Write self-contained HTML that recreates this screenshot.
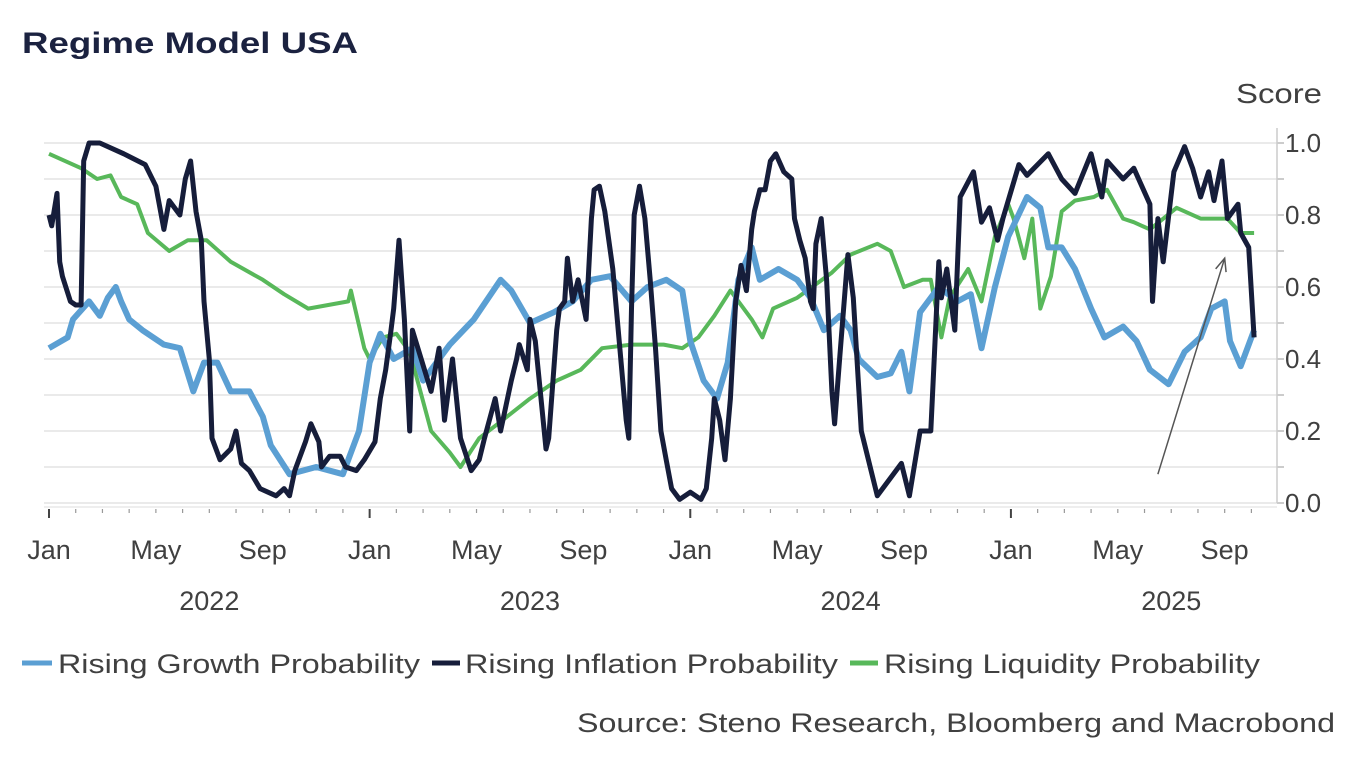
<!DOCTYPE html>
<html><head><meta charset="utf-8"><style>
body{margin:0;background:#fff;width:1362px;height:758px;overflow:hidden;font-family:"Liberation Sans",sans-serif}
svg{position:absolute;left:0;top:0}
</style></head><body>
<svg id="chart" width="1362" height="758">
<text x="22" y="53" font-size="30" font-weight="bold" fill="#1b2240" textLength="336" lengthAdjust="spacingAndGlyphs">Regime Model USA</text>
<text x="1236" y="103" font-size="28" fill="#404040" textLength="86" lengthAdjust="spacingAndGlyphs">Score</text>
<g id="grid"></g><g id="axes"></g><g id="series"></g>
<g>
<g><line x1="22" y1="663" x2="52" y2="663" stroke="#5b9fd3" stroke-width="5"/><text x="58" y="673" font-size="27" fill="#404040" textLength="362" lengthAdjust="spacingAndGlyphs">Rising Growth Probability</text></g>
<g><line x1="432" y1="663" x2="460" y2="663" stroke="#161d3a" stroke-width="5"/><text x="465" y="673" font-size="27" fill="#404040" textLength="373" lengthAdjust="spacingAndGlyphs">Rising Inflation Probability</text></g>
<g><line x1="850" y1="663" x2="878" y2="663" stroke="#58b85a" stroke-width="5"/><text x="884" y="673" font-size="27" fill="#404040" textLength="376" lengthAdjust="spacingAndGlyphs">Rising Liquidity Probability</text></g>
</g>
<text x="577" y="732" font-size="27" fill="#404040" textLength="758" lengthAdjust="spacingAndGlyphs">Source: Steno Research, Bloomberg and Macrobond</text>
</svg>
<script>
const yTicks=[0,0.1,0.2,0.3,0.4,0.5,0.6,0.7,0.8,0.9,1.0];
const yLabels=["0.0","0.2","0.4","0.6","0.8","1.0"];
const xTickMonths=[0,4,8,12,16,20,24,28,32,36,40,44];
const xTickLabels=["Jan","May","Sep","Jan","May","Sep","Jan","May","Sep","Jan","May","Sep"];
const years=["2022","2023","2024","2025"];
const growthT=[0,0.7,0.9,1.5,1.9,2.2,2.5,2.7,3.0,3.5,4.3,4.9,5.4,5.8,6.3,6.8,7.5,8.0,8.3,9.0,10.0,11.0,11.6,12.0,12.4,12.9,13.6,14.0,14.3,15.0,15.9,16.9,17.3,18.0,18.9,19.6,20.3,21.0,21.8,22.4,23.1,23.7,24.0,24.5,25.0,25.4,25.8,26.3,26.6,27.3,28.0,28.5,29.0,29.6,30.0,30.3,31.0,31.5,31.9,32.2,32.6,33.3,34.0,34.5,34.9,35.4,35.9,36.6,37.1,37.4,37.9,38.4,39.0,39.5,40.2,40.7,41.2,41.9,42.5,43.1,43.5,44.0,44.2,44.6,45.1];
const growthV=[.43,.46,.51,.56,.52,.57,.6,.56,.51,.48,.44,.43,.31,.39,.39,.31,.31,.24,.16,.08,.1,.08,.2,.39,.47,.4,.43,.34,.37,.44,.51,.62,.59,.5,.53,.56,.62,.63,.56,.6,.62,.59,.45,.34,.29,.39,.62,.71,.62,.65,.62,.57,.48,.52,.48,.4,.35,.36,.42,.31,.53,.6,.56,.58,.43,.6,.74,.85,.82,.71,.71,.65,.54,.46,.49,.45,.37,.33,.42,.46,.54,.56,.45,.38,.48];
const inflT=[0,0.1,0.3,0.4,0.5,0.8,1.0,1.2,1.3,1.5,1.9,2.8,3.6,4.0,4.3,4.5,4.9,5.1,5.3,5.5,5.7,5.8,6.0,6.1,6.4,6.8,7.0,7.2,7.5,7.9,8.5,8.8,9.0,9.2,9.6,9.8,10.1,10.2,10.5,10.9,11.1,11.5,11.8,12.2,12.4,12.6,12.8,12.9,13.1,13.2,13.3,13.5,13.6,14.3,14.6,14.8,15.1,15.4,15.8,16.1,16.3,16.7,16.9,17.3,17.5,17.6,17.9,18.0,18.2,18.6,18.7,19.0,19.1,19.3,19.4,19.6,19.8,20.1,20.3,20.4,20.6,20.8,21.1,21.4,21.6,21.7,21.8,21.9,22.1,22.3,22.5,22.7,22.9,23.1,23.3,23.6,24.0,24.4,24.6,24.8,24.9,25.1,25.3,25.5,25.7,25.9,26.1,26.3,26.4,26.6,26.8,27.0,27.2,27.5,27.8,27.9,28.1,28.3,28.5,28.6,28.7,28.9,29.1,29.3,29.4,29.6,29.9,30.1,30.4,31.0,31.9,32.2,32.6,33.0,33.3,33.4,33.6,33.9,34.1,34.6,34.9,35.2,35.5,35.7,36.3,36.6,37.4,37.9,38.4,39.0,39.4,39.6,40.2,40.6,41.2,41.3,41.5,41.7,42.1,42.5,42.8,43.1,43.4,43.6,43.9,44.1,44.5,44.6,44.9,45.1];
const inflV=[.80,.77,.86,.67,.63,.56,.55,.55,.95,1.0,1.0,.97,.94,.88,.76,.84,.80,.90,.95,.81,.73,.56,.40,.18,.12,.15,.20,.11,.09,.04,.02,.04,.02,.09,.17,.22,.17,.10,.13,.13,.10,.09,.12,.17,.29,.37,.48,.54,.73,.62,.51,.20,.48,.31,.43,.23,.40,.18,.09,.12,.18,.29,.20,.34,.40,.44,.37,.51,.45,.15,.18,.48,.54,.56,.68,.56,.62,.51,.79,.87,.88,.81,.65,.40,.23,.18,.54,.80,.88,.79,.62,.43,.20,.12,.04,.01,.03,.01,.04,.18,.29,.23,.12,.29,.56,.66,.59,.76,.81,.87,.87,.95,.97,.92,.90,.79,.73,.68,.56,.54,.72,.79,.62,.31,.22,.41,.69,.57,.20,.02,.11,.02,.20,.20,.67,.57,.65,.48,.85,.92,.78,.82,.73,.79,.94,.91,.97,.90,.86,.97,.85,.95,.90,.93,.83,.56,.79,.67,.92,.99,.93,.85,.92,.84,.95,.79,.83,.75,.71,.46];
const liqT=[0,1.2,1.8,2.3,2.7,3.3,3.7,4.5,5.2,5.9,6.8,8.0,8.8,9.7,11.2,11.3,11.8,12.0,12.5,13.0,13.5,14.3,15.0,15.4,16.1,16.8,18.0,19.0,19.9,20.7,21.8,23.0,23.7,24.3,24.9,25.5,26.3,26.7,27.1,28.0,29.3,30.0,31.0,31.5,32.0,32.7,33.0,33.4,33.7,34.4,34.9,35.4,35.9,36.1,36.5,36.8,37.1,37.5,37.9,38.4,39.1,39.6,40.2,40.6,41.2,42.2,43.1,44.1,44.6,45.1];
const liqV=[.97,.93,.90,.91,.85,.83,.75,.70,.73,.73,.67,.62,.58,.54,.56,.59,.43,.40,.46,.47,.42,.20,.14,.10,.18,.22,.29,.34,.37,.43,.44,.44,.43,.46,.52,.59,.51,.46,.54,.57,.64,.69,.72,.70,.60,.62,.62,.46,.57,.65,.56,.74,.83,.79,.68,.79,.54,.63,.81,.84,.85,.87,.79,.78,.76,.82,.79,.79,.75,.75];
const arrowT=[41.5,44.0], arrowV=[0.08,0.68];

const NS="http://www.w3.org/2000/svg";
const X0=49, MPX=26.72, Y0=503, YS=360, XR=1277;
const xs=t=>X0+t*MPX, ys=v=>Y0-v*YS;
function mk(tag,attrs,parent){const e=document.createElementNS(NS,tag);for(const k in attrs)e.setAttribute(k,attrs[k]);parent.appendChild(e);return e;}
const grid=document.getElementById('grid'), axes=document.getElementById('axes'), ser=document.getElementById('series');
yTicks.forEach((v,i)=>{
  const l=mk('line',{x1:44,x2:XR,y1:ys(v),y2:ys(v),stroke:'#e3e3e3','stroke-width':1.5},grid);
  
  
  mk('line',{x1:XR,x2:XR+7,y1:ys(v),y2:ys(v),stroke:'#bbb','stroke-width':1.5},axes);
});
mk('line',{x1:XR,x2:XR,y1:128,y2:Y0,stroke:'#ccc','stroke-width':1.5},axes);
mk('line',{x1:44,x2:XR,y1:Y0+4,y2:Y0+4,stroke:'#ddd','stroke-width':1},axes);
yLabels.forEach((s,i)=>{
  const t=mk('text',{x:1285,y:ys(i*0.2)+9,'font-size':26,fill:'#404040'},axes);t.textContent=s;
  
  
});
for(let m=0;m<=45;m++){mk('line',{x1:xs(m),x2:xs(m),y1:Y0+6,y2:Y0+(m%12==0?15:10),stroke:m%12==0?'#444':'#999','stroke-width':m%12==0?2:1.2},axes);}
xTickMonths.forEach((m,i)=>{
  const t=mk('text',{x:xs(m),y:559,'font-size':27,fill:'#404040','text-anchor':'middle'},axes);t.textContent=xTickLabels[i];
  
  
});
years.forEach((y,i)=>{
  const t=mk('text',{x:xs(i*12+6),y:610,'font-size':27,fill:'#404040','text-anchor':'middle'},axes);t.textContent=y;
  
  
});
function line(T,V,color,w,name){
  const d=T.map((t,i)=>(i?'L':'M')+xs(t).toFixed(1)+','+ys(V[i]).toFixed(1)).join('');
  const p=mk('path',{d:d,fill:'none',stroke:color,'stroke-width':w,'stroke-linejoin':'round'},ser);
  
  
}
line(liqT,liqV,'#58b85a',4,'liquidity-line');
line(growthT,growthV,'#5b9fd3',6,'growth-line');
line(inflT,inflV,'#161d3a',5,'inflation-line');
const ax1=xs(arrowT[0]),ay1=ys(arrowV[0]),ax2=xs(arrowT[1]),ay2=ys(arrowV[1]);
const ang=Math.atan2(ay2-ay1,ax2-ax1);
const a=mk('path',{d:`M${ax1},${ay1}L${ax2},${ay2}M${ax2-14*Math.cos(ang-0.4)},${ay2-14*Math.sin(ang-0.4)}L${ax2},${ay2}L${ax2-14*Math.cos(ang+0.4)},${ay2-14*Math.sin(ang+0.4)}`,fill:'none',stroke:'#555','stroke-width':1.5},ser);


</script>
</body></html>
